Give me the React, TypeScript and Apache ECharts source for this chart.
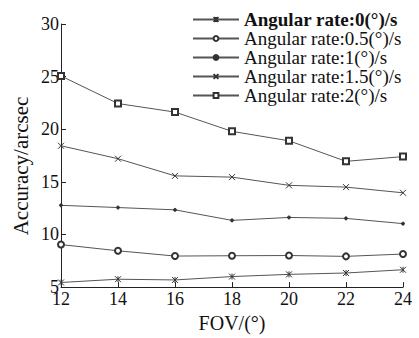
import React, { useEffect, useRef } from "react";
import * as echarts from "echarts";

const fov = [12, 14, 16, 18, 20, 22, 24];
const rate0 = [5.44, 5.75, 5.68, 6.0, 6.21, 6.34, 6.65];
const rate05 = [9.04, 8.45, 7.95, 7.98, 8.0, 7.92, 8.14];
const rate1 = [12.77, 12.56, 12.34, 11.34, 11.62, 11.53, 11.03];
const rate15 = [18.43, 17.2, 15.57, 15.45, 14.67, 14.5, 13.96];
const rate2 = [25.06, 22.44, 21.63, 19.8, 18.9, 16.95, 17.4];
const names = [
  "Angular rate:0(°)/s",
  "Angular rate:0.5(°)/s",
  "Angular rate:1(°)/s",
  "Angular rate:1.5(°)/s",
  "Angular rate:2(°)/s",
];
const yTitle = "Accuracy/arcsec";
const xTitle = "FOV/(°)";

const FONT = "'Liberation Serif', 'Times New Roman', serif";
const LINE = "#555";

export default function App() {
  const ref = useRef<HTMLDivElement>(null);
  useEffect(() => {
    const chart = echarts.init(ref.current!, null, { renderer: "svg" });
    const mk = (name: string, data: number[], symbol: string, size: number, fill: string) => ({
      name,
      type: "line",
      data: fov.map((x, i) => [x, data[i]]),
      symbol,
      symbolSize: size,
      lineStyle: { color: LINE, width: 1 },
      itemStyle: { color: fill, borderColor: "#333", borderWidth: 1 },
    });
    chart.setOption({
      animation: false,
      backgroundColor: "#fff",
      grid: { left: 61, right: 16, top: 24, bottom: 46 },
      graphic: [
        {
          type: "text",
          x: 21,
          y: 166,
          rotation: Math.PI / 2,
          style: {
            text: yTitle,
            fontFamily: FONT,
            fontSize: 21,
            fill: "#111",
            align: "center",
            verticalAlign: "middle",
          },
        },
      ],
      legend: {
        orient: "vertical",
        left: 187,
        top: 5,
        itemGap: 0,
        itemWidth: 46,
        itemHeight: 6,
        textStyle: {
          fontFamily: FONT,
          fontSize: 19,
          color: "#111",
          rich: { b: { fontFamily: FONT, fontSize: 19, fontWeight: "bold", color: "#111" } },
        },
        formatter: (n: string) => (n === names[0] ? `{b|${n}}` : n),
        data: names,
      },
      xAxis: {
        type: "value",
        min: 12,
        max: 24,
        interval: 2,
        name: xTitle,
        nameLocation: "middle",
        nameGap: 21,
        nameTextStyle: { fontFamily: FONT, fontSize: 20, color: "#111" },
        axisLine: { lineStyle: { color: "#222" } },
        axisTick: { inside: true, length: 5, lineStyle: { color: "#222" } },
        axisLabel: { fontFamily: FONT, fontSize: 18, color: "#111", margin: 3 },
        splitLine: { show: false },
      },
      yAxis: {
        type: "value",
        min: 5,
        max: 30,
        interval: 5,
        axisLine: { show: true, lineStyle: { color: "#222" } },
        axisTick: { show: true, inside: true, length: 5, lineStyle: { color: "#222" } },
        axisLabel: { fontFamily: FONT, fontSize: 18, color: "#111", margin: 2 },
        splitLine: { show: false },
      },
      series: [
        mk(names[0], rate0, "path://M0,0L10,10M10,0L0,10M5,0L5,10", 6, "none"),
        mk(names[1], rate05, "emptyCircle", 6, "#333"),
        mk(names[2], rate1, "circle", 3, "#333"),
        mk(names[3], rate15, "path://M0,0L10,10M10,0L0,10", 6, "none"),
        mk(names[4], rate2, "emptyRect", 6, "#333"),
      ],
    });
    return () => chart.dispose();
  }, []);
  return <div ref={ref} style={{ width: 419, height: 338, position: "absolute", left: 0, top: 0 }} />;
}
